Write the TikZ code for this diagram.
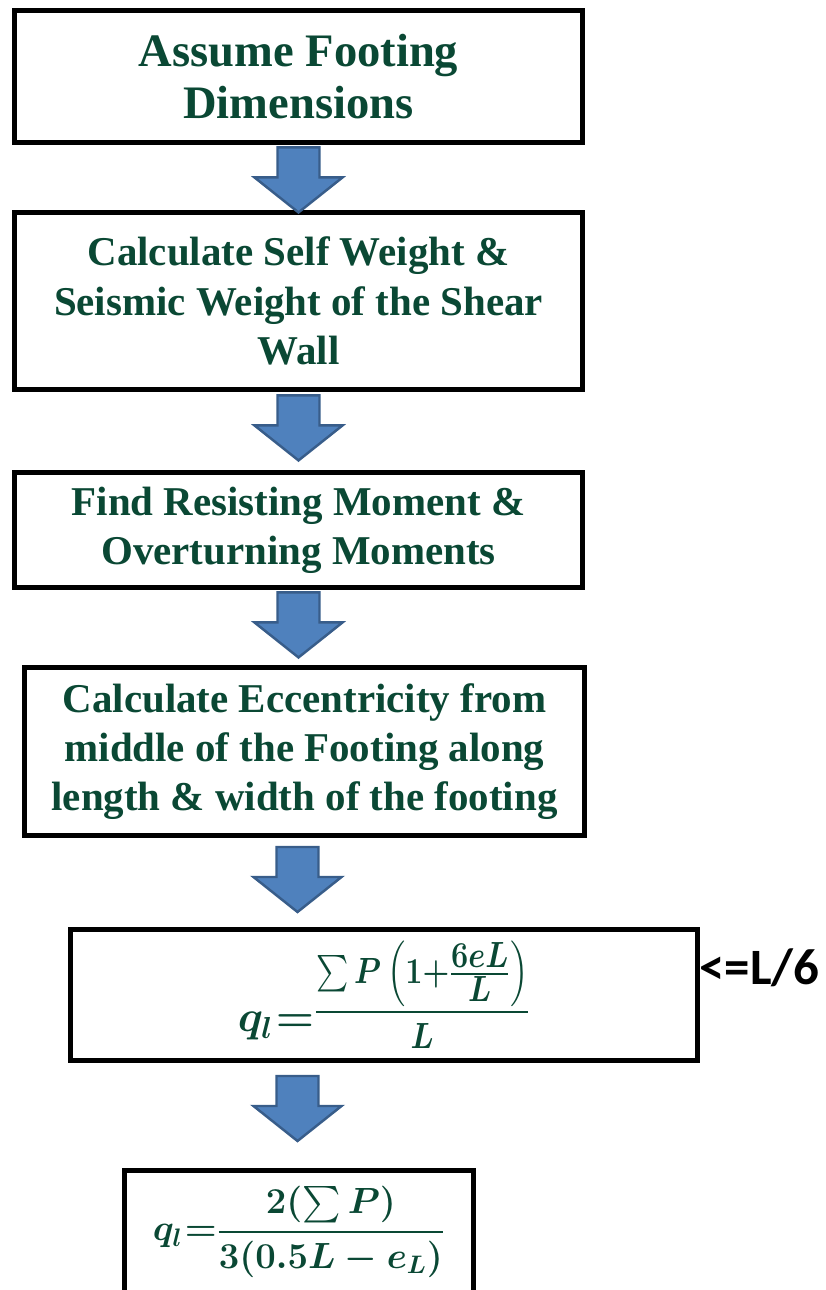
\documentclass[tikz,border=0pt]{standalone}
\usepackage{amsmath}
\usepackage{graphicx}
\usepackage{fontspec}
\setmainfont{Liberation Serif}
\newfontfamily\calibrifont{Carlito}
\usetikzlibrary{positioning}
\definecolor{stepgreen}{RGB}{10,72,52}
\definecolor{arrowfill}{RGB}{79,129,189}
\definecolor{arrowline}{RGB}{56,93,138}

% formulas set in the two pressure boxes
\newcommand{\pressureone}{%
  {\fontsize{27}{27}\selectfont\boldmath$q_{l}\mkern1mu{=}$}%
  \raisebox{6pt}{\fontsize{20}{24}\selectfont\scalebox{0.84}[1]{\boldmath$\displaystyle\frac{\sum P\left(1{+}\frac{\textstyle 6eL}{\textstyle L}\right)}{L}$}}}
\newcommand{\pressuretwo}{%
  {\fontsize{22}{26}\selectfont\boldmath$q_{l}\mkern1mu{=}\displaystyle\frac{2(\sum P)}{3(0.5L-e_L)}$}}

% block arrow hanging below a box: #1 start, #2 drop
\newcommand{\blockarrow}[2]{%
  \draw[flow arrow] #1 ++(-21,#2) -- ++(0,30) -- ++(-23,0) -- ++(44,35)
    -- ++(44,-35) -- ++(-23,0) -- ++(0,-30) -- cycle;}

\begin{document}
\begin{tikzpicture}[
    x=0.02cm, y=-0.02cm,
    step box/.style={draw=black, line width=2.8pt, fill=white, align=center, text=stepgreen, inner sep=0pt,
        font=\bfseries\fontsize{23.3}{28}\selectfont},
    formula box/.style={draw=black, line width=2.8pt, fill=white, text=stepgreen, inner sep=0pt},
    flow arrow/.style={fill=arrowfill, draw=arrowline, line width=1.4pt, line join=miter}
]
    \useasboundingbox (0,0) rectangle (825,1290);

    % Steps
    \node[step box, minimum width=11.36cm, minimum height=2.64cm, font=\bfseries\fontsize{26.5}{30}\selectfont]
        (assume) at (298.5,76.5) {Assume Footing\\Dimensions};
    \node[step box, minimum width=11.36cm, minimum height=3.54cm]
        (weight) at (298.5,301) {Calculate Self Weight \&\\Seismic Weight of the Shear\\Wall};
    \node[step box, minimum width=11.36cm, minimum height=2.3cm]
        (moment) at (298.5,530) {Find Resisting Moment \&\\Overturning Moments};
    \node[step box, minimum width=11.2cm, minimum height=3.36cm]
        (ecc) at (304.5,751.5) {Calculate Eccentricity from\\middle of the Footing along\\length \& width of the footing};

    % Pressure formulas
    \node[formula box, minimum width=12.54cm, minimum height=2.62cm] (qone) at (384,995) {\pressureone};
    \node[font=\calibrifont\bfseries\fontsize{29}{29}\selectfont, anchor=base west, inner sep=0pt]
        (limit) at (699,984) {<=L/6};
    \node[formula box, minimum width=6.98cm, minimum height=2.46cm] (qtwo) at (299,1232) {\pressuretwo};

    % Arrows
    \coordinate (col4) at (297.5,835.5);
    \coordinate (col5) at (297.5,1060.5);
    \blockarrow{(assume.south)}{2.5}
    \blockarrow{(weight.south)}{3.5}
    \blockarrow{(moment.south)}{2.5}
    \blockarrow{(col4)}{11.5}
    \blockarrow{(col5)}{15.5}
\end{tikzpicture}
\end{document}
